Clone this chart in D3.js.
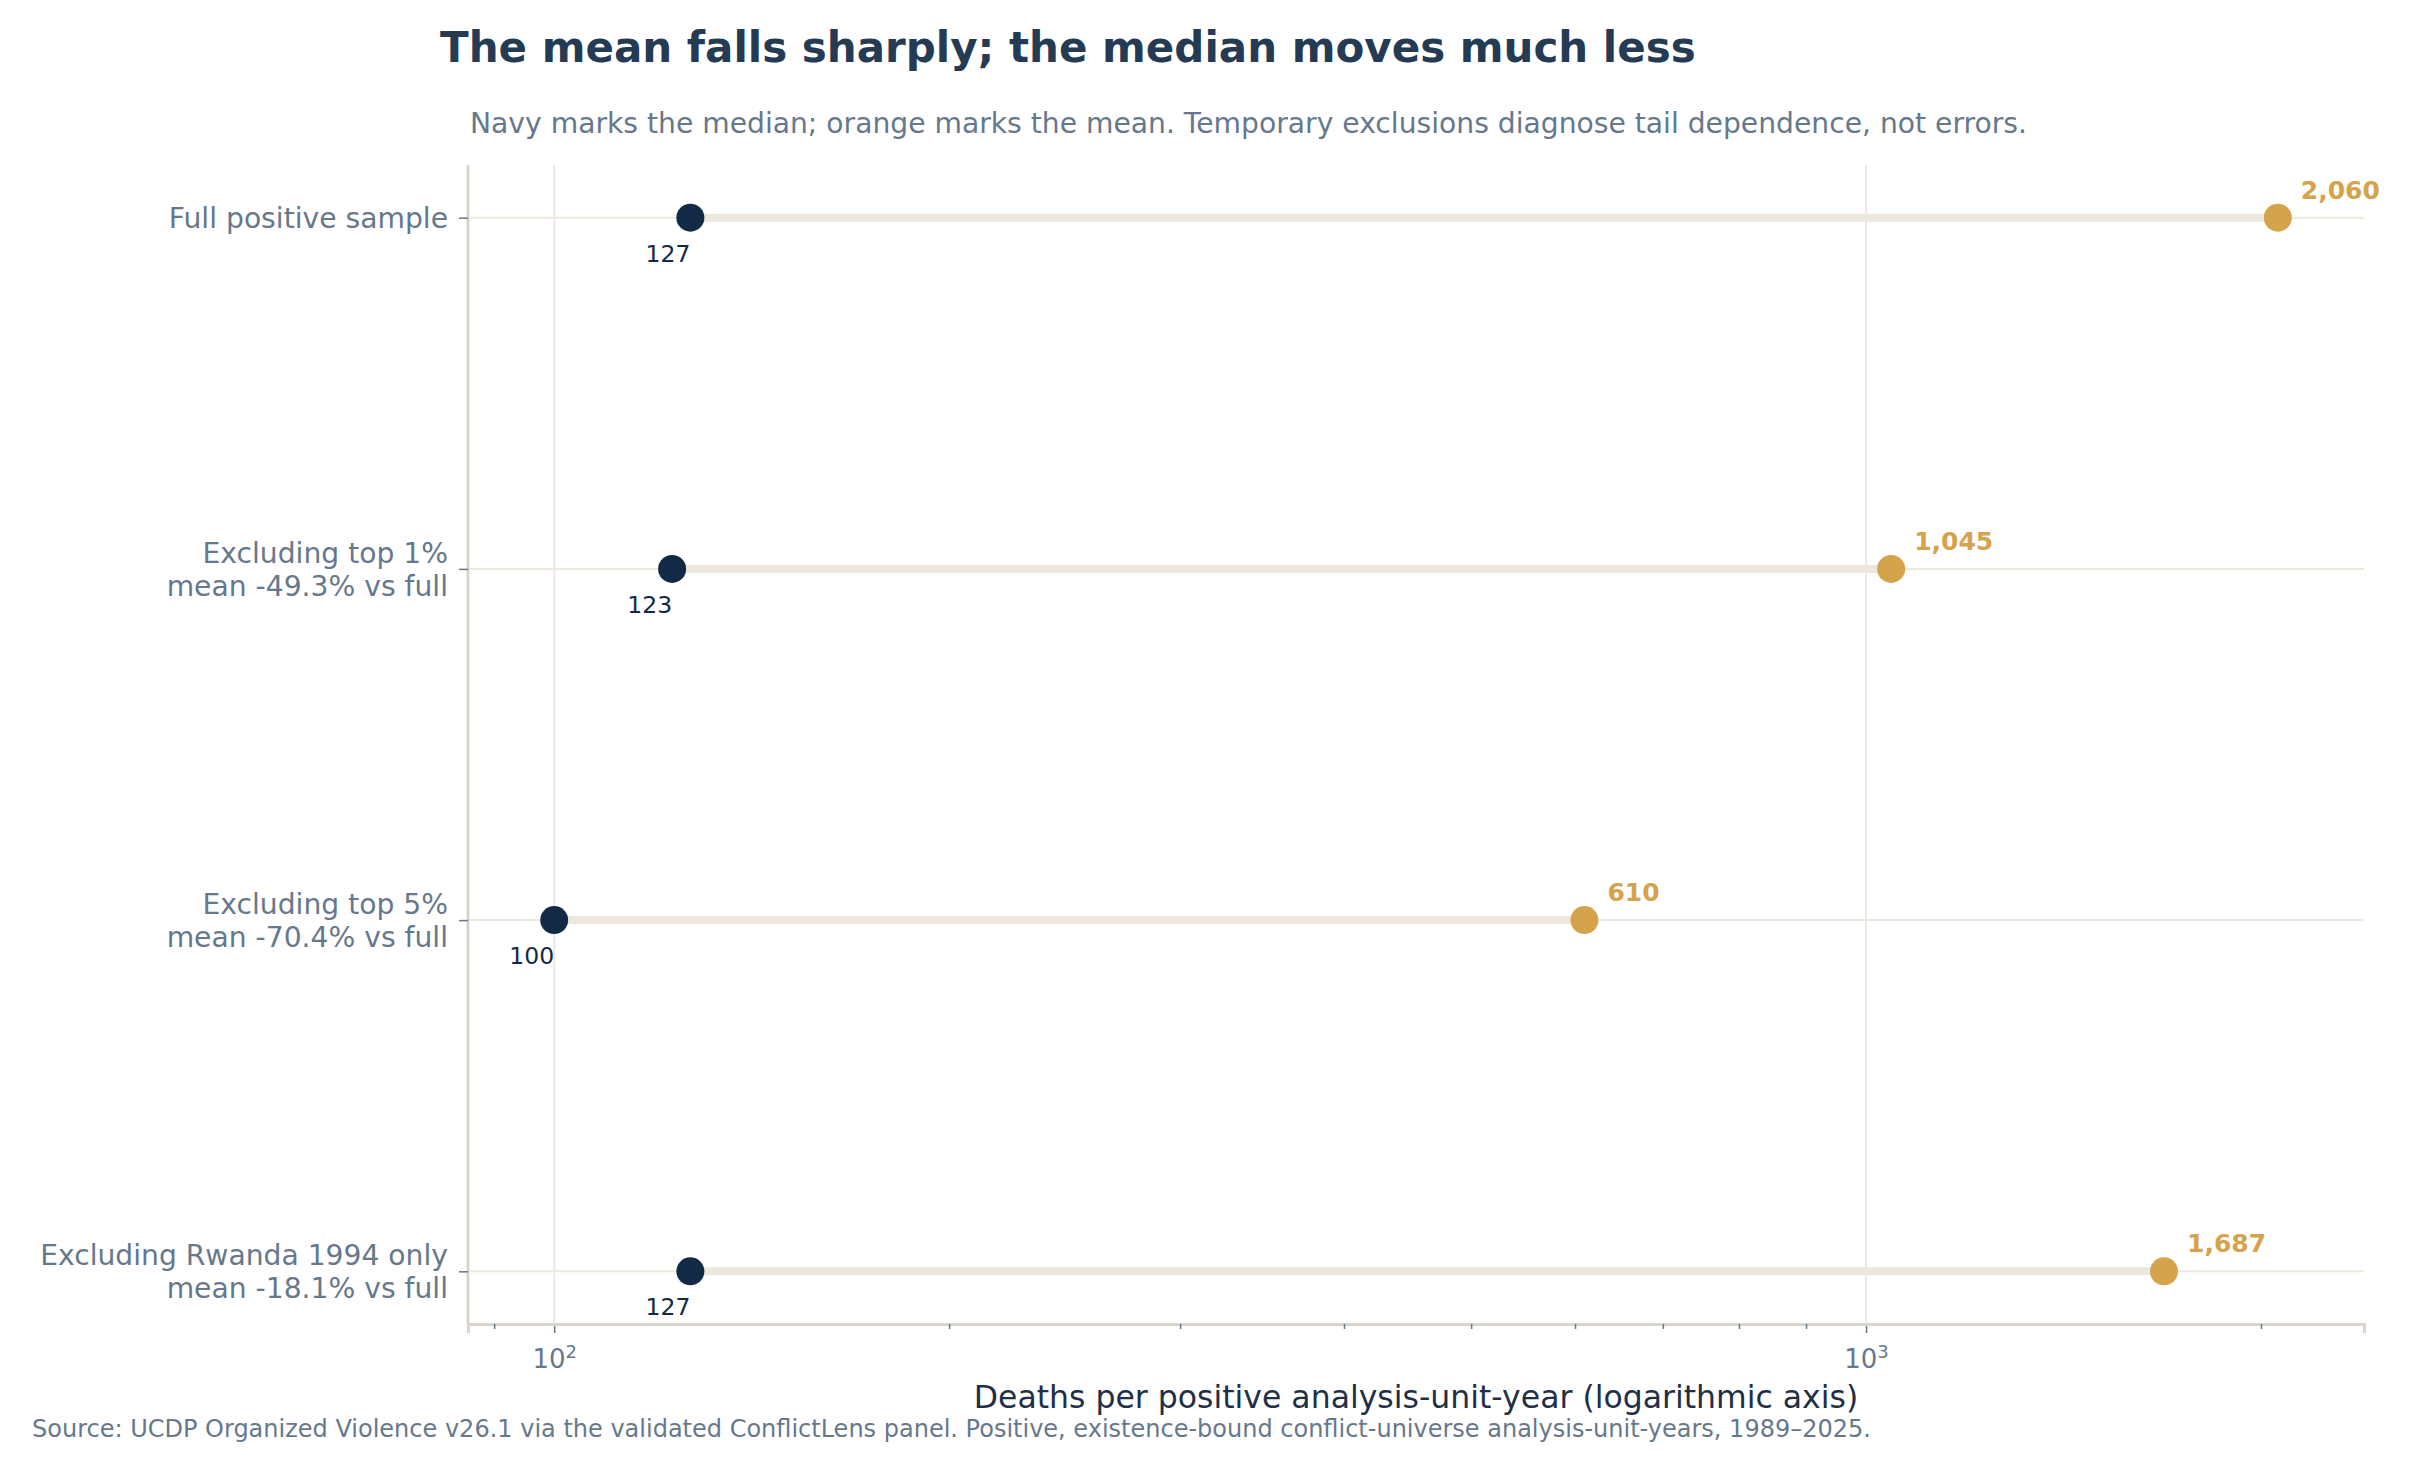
<!DOCTYPE html>
<html>
<head>
<meta charset="utf-8">
<script src="https://cdn.jsdelivr.net/npm/d3@7"></script>
<style>
  body { margin: 0; background: #fff; }
  text { font-family: "DejaVu Sans", sans-serif; }
</style>
</head>
<body>
<div id="chart"></div>
<script>
// Data
var categories = ["Full positive sample", "Excluding top 1%", "Excluding top 5%", "Excluding Rwanda 1994 only"];
var meanChange = [null, "-49.3%", "-70.4%", "-18.1%"];
var medians = [127, 123, 100, 127];
var means = [2060, 1045, 610, 1687];
var majorTicks = [100, 1000];
var minorTicks = [90, 200, 300, 400, 500, 600, 700, 800, 900, 2000];

var svgWidth = 2415;
var svgHeight = 1473;

var margin = { top: 165, right: 51, bottom: 149, left: 468 };
var width = svgWidth - margin.left - margin.right;
var height = svgHeight - margin.top - margin.bottom;

var navy = "#132a46";
var orange = "#d4a34b";
var slate = "#66788b";
var grid = "#ede9df";

var svg = d3.select("#chart")
  .append("svg")
  .attr("width", svgWidth)
  .attr("height", svgHeight);

var chartGroup = svg.append("g")
  .attr("transform", `translate(${margin.left}, ${margin.top})`);

// Scales (log x with 5% padding like the original)
var lo = Math.log10(d3.min(medians));
var hi = Math.log10(d3.max(means));
var pad = 0.05 * (hi - lo);

var xScale = d3.scaleLog()
  .domain([Math.pow(10, lo - pad), Math.pow(10, hi + pad)])
  .range([0, width]);

var yScale = d3.scalePoint()
  .domain(categories)
  .range([0, height])
  .padding(0.15);

// Gridlines
chartGroup.selectAll(".vgrid")
  .data(majorTicks)
  .enter()
  .append("line")
  .attr("x1", d => xScale(d))
  .attr("x2", d => xScale(d))
  .attr("y1", 0)
  .attr("y2", height)
  .attr("stroke", grid)
  .attr("stroke-width", 2);

chartGroup.selectAll(".hgrid")
  .data(categories)
  .enter()
  .append("line")
  .attr("x1", 0)
  .attr("x2", width)
  .attr("y1", d => yScale(d))
  .attr("y2", d => yScale(d))
  .attr("stroke", grid)
  .attr("stroke-width", 2);

// Axes
var xAxis = d3.axisBottom(xScale)
  .tickValues(majorTicks)
  .tickSize(9)
  .tickFormat("");

var xMinor = d3.axisBottom(xScale)
  .tickValues(minorTicks)
  .tickSize(5)
  .tickFormat("");

var xg = chartGroup.append("g")
  .attr("transform", `translate(0, ${height})`)
  .call(xAxis);

var xm = chartGroup.append("g")
  .attr("transform", `translate(0, ${height})`)
  .call(xMinor);

[xg, xm].forEach(function(g) {
  g.select(".domain").attr("stroke", "#d9d5cb").attr("stroke-width", 3);
  g.selectAll(".tick line").attr("stroke", slate).attr("stroke-width", 1.5);
});

// 10^n tick labels
xg.selectAll(".tick").each(function(d) {
  var t = d3.select(this).append("text")
    .attr("y", 44)
    .attr("fill", slate)
    .attr("font-size", "26px")
    .attr("text-anchor", "middle");
  t.append("tspan").text("10");
  t.append("tspan")
    .attr("dy", "-0.55em")
    .attr("font-size", "18px")
    .text(Math.round(Math.log10(d)));
});

var yAxis = d3.axisLeft(yScale)
  .tickSize(9)
  .tickFormat("");

var yg = chartGroup.append("g").call(yAxis);
yg.select(".domain").attr("stroke", "#d9d5cb").attr("stroke-width", 3).attr("d", `M0,0V${height}`);
yg.selectAll(".tick line").attr("stroke", slate).attr("stroke-width", 1.5);

// Category labels
yg.selectAll(".tick").each(function(d, i) {
  var lines = [d];
  if (meanChange[i]) lines.push("mean " + meanChange[i] + " vs full");
  var t = d3.select(this).append("text")
    .attr("x", -20)
    .attr("fill", slate)
    .attr("font-size", "28.2px")
    .attr("text-anchor", "end");
  var first = lines.length === 1 ? 0.36 : -0.24;
  lines.forEach(function(line, j) {
    t.append("tspan")
      .attr("x", -20)
      .attr("dy", j === 0 ? first + "em" : "1.17em")
      .text(line);
  });
});

// Median-to-mean segments
chartGroup.selectAll(".segment")
  .data(categories)
  .enter()
  .append("line")
  .attr("x1", (d, i) => xScale(medians[i]))
  .attr("x2", (d, i) => xScale(means[i]))
  .attr("y1", d => yScale(d))
  .attr("y2", d => yScale(d))
  .attr("stroke", "#ede8de")
  .attr("stroke-width", 8);

// Dots
chartGroup.selectAll(".median")
  .data(categories)
  .enter()
  .append("circle")
  .attr("cx", (d, i) => xScale(medians[i]))
  .attr("cy", d => yScale(d))
  .attr("r", 14)
  .attr("fill", navy);

chartGroup.selectAll(".mean")
  .data(categories)
  .enter()
  .append("circle")
  .attr("cx", (d, i) => xScale(means[i]))
  .attr("cy", d => yScale(d))
  .attr("r", 14)
  .attr("fill", orange);

// Value labels
chartGroup.selectAll(".medianText")
  .data(categories)
  .enter()
  .append("text")
  .attr("x", (d, i) => xScale(medians[i]))
  .attr("y", d => yScale(d) + 44)
  .attr("text-anchor", "end")
  .attr("font-size", "23.5px")
  .attr("fill", navy)
  .text((d, i) => d3.format(",")(medians[i]));

chartGroup.selectAll(".meanText")
  .data(categories)
  .enter()
  .append("text")
  .attr("x", (d, i) => xScale(means[i]) + 23)
  .attr("y", d => yScale(d) - 19)
  .attr("font-size", "25px")
  .attr("font-weight", "bold")
  .attr("fill", orange)
  .text((d, i) => d3.format(",")(means[i]));

// Titles and notes
svg.append("text")
  .attr("x", 440)
  .attr("y", 62)
  .attr("font-size", "42px")
  .attr("font-weight", "bold")
  .attr("fill", "#243b53")
  .text("The mean falls sharply; the median moves much less");

svg.append("text")
  .attr("x", 470)
  .attr("y", 133)
  .attr("font-size", "28.2px")
  .attr("fill", slate)
  .text("Navy marks the median; orange marks the mean. Temporary exclusions diagnose tail dependence, not errors.");

chartGroup.append("text")
  .attr("x", width / 2)
  .attr("y", height + 84)
  .attr("text-anchor", "middle")
  .attr("font-size", "31.5px")
  .attr("fill", "#1f2f46")
  .text("Deaths per positive analysis-unit-year (logarithmic axis)");

svg.append("text")
  .attr("x", 32)
  .attr("y", 1437)
  .attr("font-size", "24px")
  .attr("fill", slate)
  .text("Source: UCDP Organized Violence v26.1 via the validated ConflictLens panel. Positive, existence-bound conflict-universe analysis-unit-years, 1989\u20132025.");
</script>
</body>
</html>
